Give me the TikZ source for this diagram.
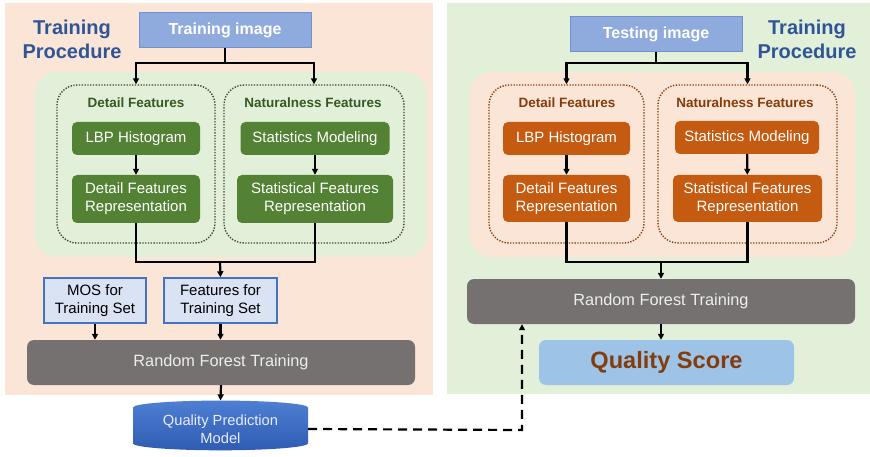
\documentclass[tikz,border=0pt]{standalone}
\usepackage{fontspec}
\setmainfont{Liberation Sans}
\usetikzlibrary{arrows.meta,shapes.geometric}
\definecolor{peach}{HTML}{FBE5D6}
\definecolor{palegreen}{HTML}{E2F0D9}
\definecolor{imgblue}{HTML}{8FAADC}
\definecolor{imgedge}{HTML}{7092D2}
\definecolor{setblue}{HTML}{DAE3F3}
\definecolor{setedge}{HTML}{4472C4}
\definecolor{forestgray}{HTML}{767171}
\definecolor{boxgreen}{HTML}{548235}
\definecolor{darkgreen}{HTML}{385723}
\definecolor{dotgreen}{HTML}{3A4632}
\definecolor{boxorange}{HTML}{C55A11}
\definecolor{darkbrown}{HTML}{843C0C}
\definecolor{scoreblue}{HTML}{9DC3E6}
\definecolor{titleblue}{HTML}{2F5597}
\definecolor{modeltop}{HTML}{4E7FD3}
\definecolor{modelbot}{HTML}{2E5CB2}
\tikzset{
  title/.style={text=titleblue, font=\bfseries\fontsize{20}{24}\selectfont, align=center, inner sep=0pt},
  imgbox/.style={draw=imgedge, line width=1pt, fill=imgblue, text=white, font=\bfseries\fontsize{16}{19}\selectfont, minimum width=172pt, minimum height=35pt, inner sep=0pt},
  lframe/.style={draw=dotgreen, line width=1.4pt, dash pattern=on 1.3pt off 1.5pt, rounded corners=20pt, minimum height=158pt},
  rframe/.style={lframe, draw=darkbrown},
  lhead/.style={text=darkgreen, font=\bfseries\fontsize{13.5}{16}\selectfont, inner sep=0pt},
  rhead/.style={lhead, text=darkbrown},
  gbox/.style={rounded corners=5pt, fill=boxgreen, text=white, font=\fontsize{15}{18}\selectfont, align=center, inner sep=0pt},
  obox/.style={gbox, fill=boxorange},
  setbox/.style={draw=setedge, line width=1.5pt, fill=setblue, font=\fontsize{15}{18}\selectfont, align=center, inner sep=0pt, minimum height=45pt},
  forest/.style={rounded corners=7pt, fill=forestgray, text=white!93!black, font=\fontsize{16.3}{19}\selectfont, minimum width=388pt, minimum height=45pt, inner sep=0pt},
  conn/.style={line width=2.2pt},
  arr/.style={conn, -{Triangle[length=6pt,width=6pt]}}
}
\begin{document}
\begin{tikzpicture}[x=1pt,y=-1pt]
\useasboundingbox (0,0) rectangle (870,457);
\fill[peach] (5,3) rectangle (433,395);
\fill[palegreen] (447,3) rectangle (870,394);
\fill[palegreen, rounded corners=22pt] (35,72) rectangle (427,257);
\fill[peach, rounded corners=22pt] (470,72) rectangle (855,257);

\node[title] (ltitle) at (72,39) {Training\\Procedure};
\node[imgbox] (timg) at (225,30.5) {Training image};
\node[lframe, minimum width=158pt] (ldf) at (136,164) {};
\node[lframe, minimum width=180pt] (lnf) at (314,164) {};
\node[lhead] (ldfhead) at (136,103) {Detail Features};
\node[lhead] (lnfhead) at (313,103) {Naturalness Features};
\node[gbox, minimum width=128pt, minimum height=33pt] (llbp) at (136,138.5) {LBP Histogram};
\node[gbox, minimum width=128pt, minimum height=48pt] (ldfr) at (136,199) {Detail Features\\Representation};
\node[gbox, minimum width=149pt, minimum height=33pt] (lsm) at (315,138.5) {Statistics Modeling};
\node[gbox, minimum width=156pt, minimum height=48pt] (lsfr) at (315,199) {Statistical Features\\Representation};
\node[setbox, minimum width=102pt] (lmos) at (95,300.5) {MOS for\\Training Set};
\node[setbox, minimum width=113pt] (lfeat) at (220.5,300.5) {Features for\\Training Set};
\node[forest] (lrf) at (221,362.5) {Random Forest Training};
\node[cylinder, shape border rotate=90, aspect=0.12, top color=modeltop, bottom color=modelbot, text=white!92!blue, font=\fontsize{14.7}{18}\selectfont, align=center, minimum width=175pt, minimum height=48pt, inner sep=0pt] (qpm) at (220.5,429) {Quality Prediction\\Model};

\coordinate (lsplit) at (225,63);
\coordinate (ljoin) at (220,262);
\draw[conn] (timg.south) -- (lsplit);
\draw[arr] (lsplit) -| (ldf.north);
\draw[arr] (lsplit) -| (lnf.north);
\draw[arr] (llbp) -- (ldfr);
\draw[arr] (lsm) -- (lsfr);
\draw[conn] (ldfr.south) |- (ljoin);
\draw[conn] (lsfr.south) |- (ljoin);
\draw[arr] (ljoin) -- (lfeat.north);
\draw[arr] (lmos.south) -- (lmos.south |- lrf.north);
\draw[arr] (lfeat.south) -- (lfeat.south |- lrf.north);
\draw[arr] (lrf.south) -- (qpm.north);

\node[title] (rtitle) at (807,39) {Training\\Procedure};
\node[imgbox] (simg) at (656,34.5) {Testing image};
\node[rframe, minimum width=155pt] (rdf) at (566.5,164) {};
\node[rframe, minimum width=179pt] (rnf) at (747.5,164) {};
\node[rhead] (rdfhead) at (567,103) {Detail Features};
\node[rhead] (rnfhead) at (745,103) {Naturalness Features};
\node[obox, minimum width=127pt, minimum height=33pt] (rlbp) at (566.5,138.5) {LBP Histogram};
\node[obox, minimum width=127pt, minimum height=47pt] (rdfr) at (566.5,198.5) {Detail Features\\Representation};
\node[obox, minimum width=144pt, minimum height=33pt] (rsm) at (747,137.5) {Statistics Modeling};
\node[obox, minimum width=149pt, minimum height=47pt] (rsfr) at (747.5,198.5) {Statistical Features\\Representation};
\node[forest] (rrf) at (661,301.5) {Random Forest Training};
\node[rounded corners=7pt, fill=scoreblue, text=darkbrown, font=\bfseries\fontsize{23.6}{28}\selectfont, minimum width=255pt, minimum height=45pt, inner sep=0pt] (qs) at (666.5,362.5) {Quality Score};

\coordinate (rsplit) at (656,63);
\coordinate (rjoin) at (661,262);
\coordinate (rfeed) at (522,430);
\draw[conn] (simg.south) -- (rsplit);
\draw[arr] (rsplit) -| (rdf.north);
\draw[arr] (rsplit) -| (rnf.north);
\draw[arr] (rlbp) -- (rdfr);
\draw[arr] (rsm) -- (rsfr);
\draw[conn] (rdfr.south) |- (rjoin);
\draw[conn] (rsfr.south) |- (rjoin);
\draw[arr] (rjoin) -- (rrf.north);
\draw[arr] (rrf.south) -- (rrf.south |- qs.north);
\draw[arr, dash pattern=on 9pt off 6pt] (qpm.east) -- (rfeed) -- (rfeed |- rrf.south);
\end{tikzpicture}
\end{document}
